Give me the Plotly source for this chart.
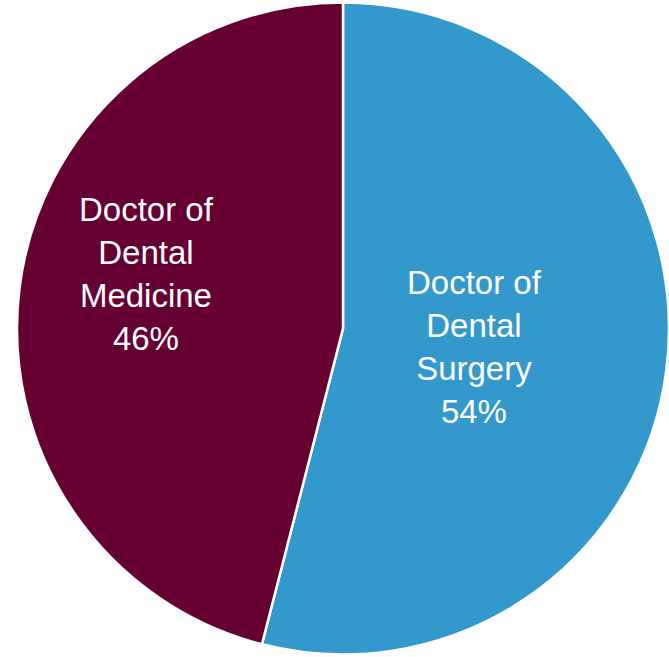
import plotly.graph_objects as go

categories = ["Doctor of Dental Surgery", "Doctor of Dental Medicine"]
label_text = ["Doctor of<br>Dental<br>Surgery", "Doctor of<br>Dental<br>Medicine"]
values = [54, 46]
colors = ["#3399CC", "#660033"]

fig = go.Figure(go.Pie(
    labels=categories,
    values=values,
    sort=False,
    direction="clockwise",
    rotation=0,
    marker=dict(colors=colors, line=dict(color="white", width=2.5)),
    textinfo="none",
    hoverinfo="label+percent",
    domain=dict(x=[17/669, 669/669], y=[1/657, 656/657]),
    showlegend=False,
))

label_pos = [(474/669, 1-347/657), (146/669, 1-274/657)]
for txt, v, (x, y) in zip(label_text, values, label_pos):
    fig.add_annotation(x=x, y=y, xref="paper", yref="paper",
                       text=f"{txt}<br>{v}%", showarrow=False,
                       font=dict(family="Liberation Sans, Arial", size=33, color="white"),
                       align="center", xanchor="center", yanchor="middle")

fig.update_layout(width=669, height=657, margin=dict(l=0, r=0, t=0, b=0),
                  paper_bgcolor="white", plot_bgcolor="white")
fig.write_html("out.html", config={"displayModeBar": False})

with open("out.html", "r", encoding="utf-8") as f:
    html = f.read()
html = html.replace("<body>", "<body style=\"margin:0;padding:0;overflow:hidden\">", 1)
with open("out.html", "w", encoding="utf-8") as f:
    f.write(html)
